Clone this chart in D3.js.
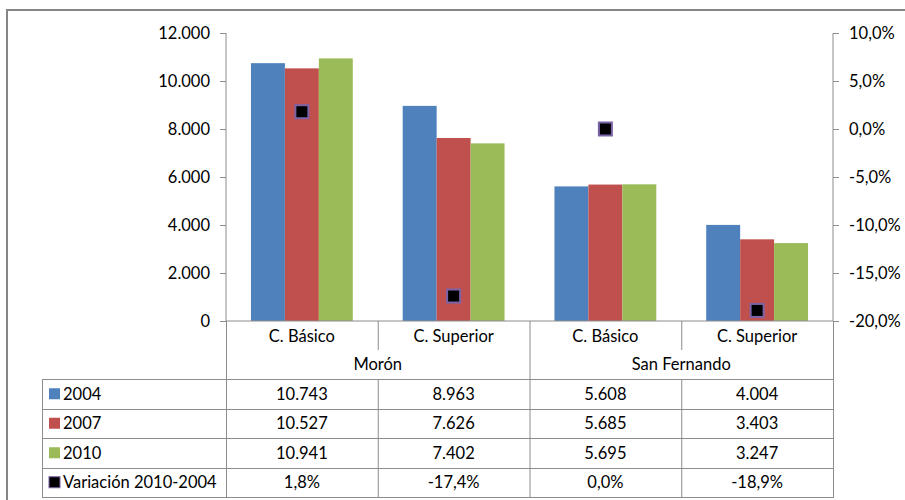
<!DOCTYPE html>
<html><head><meta charset="utf-8">
<script src="https://cdn.jsdelivr.net/npm/d3@7"></script>
<style>body{margin:0;background:#fff}svg{display:block}text{font-family:Lato,"Open Sans",sans-serif;fill:#000}</style>
</head><body><svg id="c" width="905" height="500"></svg>
<script>
const categories = ["C. Básico","C. Superior","C. Básico","C. Superior"];
const groups = ["Morón","San Fernando"];
const seriesNames = ["2004","2007","2010"];
const values2004 = [10743, 8963, 5608, 4004];
const values2007 = [10527, 7626, 5685, 3403];
const values2010 = [10941, 7402, 5695, 3247];
const variation = [0.018, -0.174, 0.000, -0.189];
const variationName = "Variación 2010-2004";
const leftTicks = [0,2000,4000,6000,8000,10000,12000];
const rightTicks = [-0.20,-0.15,-0.10,-0.05,0,0.05,0.10];
const colors = ["#4F81BD","#C0504D","#9BBB59"];

const series = [values2004, values2007, values2010];
const loc = d3.formatLocale({decimal:",", thousands:".", grouping:[3], currency:["",""], minus:"-"});
const fmtN = loc.format(",.0f"), fmtP = loc.format(".1%");

const svg = d3.select("#c");
const fs = 16.5;
const L = 226, R = 833, T = 33, B = 321;
const gridCol = "#8c8c8c";

svg.append("rect").attr("x",7).attr("y",10).attr("width",920).attr("height",520)
  .attr("fill","none").attr("stroke","#868686").attr("stroke-width",2);

const x = d3.scaleBand().domain(d3.range(categories.length)).range([L,R]).padding(0);
const x1 = d3.scaleBand().domain(d3.range(3)).range([0,x.bandwidth()]).paddingInner(0).paddingOuter(0.735);
const y = d3.scaleLinear().domain([0,12000]).range([B,T]);
const y2 = d3.scaleLinear().domain([-0.20,0.10]).range([B,T]);

// bars
series.forEach((vals,si)=>{
  svg.append("g").selectAll("rect").data(vals).join("rect")
    .attr("x",(d,i)=>x(i)+x1(si)).attr("width",x1.bandwidth())
    .attr("y",d=>y(d)).attr("height",d=>y(0)-y(d)).attr("fill",colors[si]);
});

// axes
const ga = svg.append("g").attr("transform",`translate(${L},0)`)
  .call(d3.axisLeft(y).tickValues(leftTicks).tickFormat(fmtN).tickSize(6).tickPadding(10));
const gb = svg.append("g").attr("transform",`translate(${R},0)`)
  .call(d3.axisRight(y2).tickValues(rightTicks).tickFormat(fmtP).tickSize(6).tickPadding(10));
[ga,gb].forEach(g=>{
  g.select(".domain").attr("stroke",gridCol).attr("d",`M0,${T}V${B}`);
  g.selectAll(".tick line").attr("stroke",gridCol);
  g.selectAll(".tick text").attr("font-size",fs).attr("font-family","Lato,sans-serif").attr("fill","#000");
});
// x axis line
svg.append("line").attr("x1",L).attr("x2",R).attr("y1",B).attr("y2",B).attr("stroke",gridCol);

// markers
svg.append("g").selectAll("rect").data(variation).join("rect")
  .attr("x",(d,i)=>x(i)+x.bandwidth()/2-6.5).attr("y",d=>y2(d)-6.5)
  .attr("width",13).attr("height",13).attr("fill","#000")
  .attr("stroke","#7B63A8").attr("stroke-width",2);

// category & group labels
const lines = svg.append("g").attr("stroke",gridCol).attr("stroke-width",1);
const tableTop = 379, rowH = 29.5, tableLeft = 42;
const tableBottom = tableTop + rowH*4;
svg.append("g").selectAll("text").data(categories).join("text")
  .attr("x",(d,i)=>x(i)+x.bandwidth()/2).attr("y",336).attr("dy","0.35em")
  .attr("text-anchor","middle").attr("font-size",fs).text(d=>d);
svg.append("g").selectAll("text").data(groups).join("text")
  .attr("x",(d,i)=>x(i*2)+x.bandwidth()).attr("y",364).attr("dy","0.35em")
  .attr("text-anchor","middle").attr("font-size",fs).text(d=>d);
[1,3].forEach(i=>lines.append("line").attr("x1",x(i)+0.5).attr("x2",x(i)+0.5).attr("y1",B).attr("y2",350));
[0,2,4].forEach(i=>{const xx=(i<4?x(i):R)+0.5; lines.append("line").attr("x1",xx).attr("x2",xx).attr("y1",B).attr("y2",tableBottom);});
[1,3].forEach(i=>lines.append("line").attr("x1",x(i)+0.5).attr("x2",x(i)+0.5).attr("y1",tableTop).attr("y2",tableBottom));
lines.append("line").attr("x1",tableLeft+0.5).attr("x2",tableLeft+0.5).attr("y1",tableTop).attr("y2",tableBottom);
d3.range(5).forEach(r=>{const yy=Math.round(tableTop+r*rowH)+0.5;
  lines.append("line").attr("x1",tableLeft).attr("x2",R+1).attr("y1",yy).attr("y2",yy);});

// table rows
const rows = series.map((vals,si)=>({name:seriesNames[si],color:colors[si],cells:vals.map(fmtN)}));
rows.push({name:variationName,color:"#000",stroke:"#7B63A8",cells:variation.map(fmtP)});
rows.forEach((row,r)=>{
  const cy = tableTop + r*rowH + rowH/2;
  svg.append("rect").attr("x",49).attr("y",cy-5.5).attr("width",11).attr("height",11)
    .attr("fill",row.color).attr("stroke",row.stroke||"none").attr("stroke-width",1);
  svg.append("text").attr("x",63).attr("y",cy).attr("dy","0.35em").attr("font-size",fs).text(row.name);
  row.cells.forEach((c,i)=>svg.append("text").attr("x",x(i)+x.bandwidth()/2).attr("y",cy).attr("dy","0.35em")
    .attr("text-anchor","middle").attr("font-size",fs).text(c));
});
</script></body></html>
